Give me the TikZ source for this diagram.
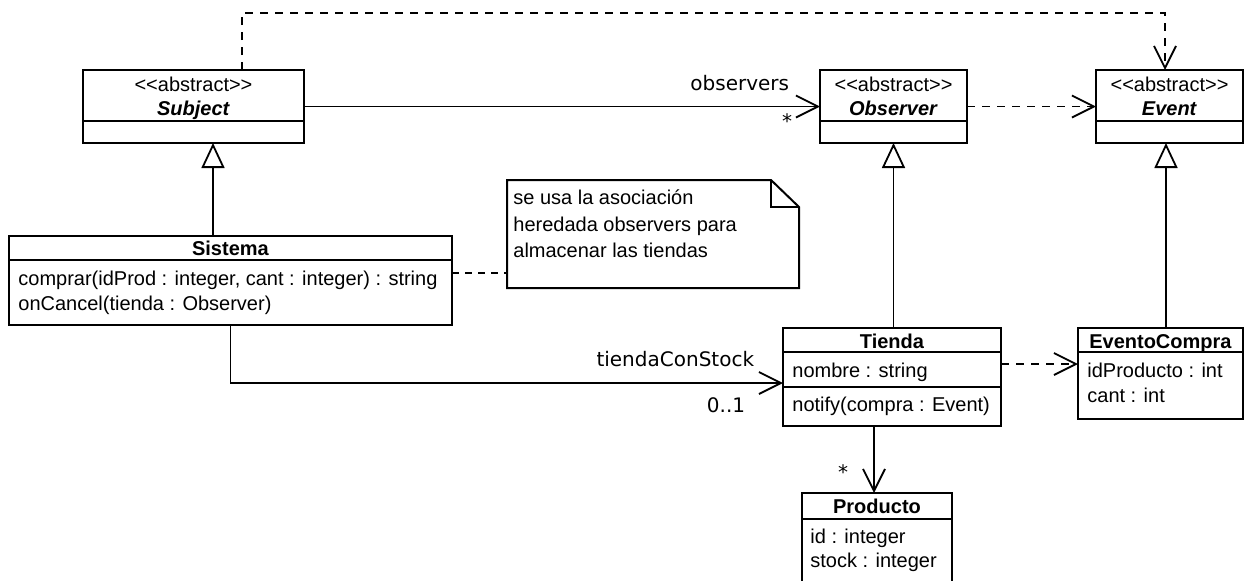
\documentclass[tikz,border=0pt]{standalone}
\usepackage{fontspec}
\setmainfont{Liberation Sans}
\newfontfamily\lblfont{DejaVu Sans}
\usetikzlibrary{arrows.meta}

\begin{document}
\begin{tikzpicture}[x=0.5pt, y=-0.5pt,
  cls/.style={draw, line width=1pt, anchor=north west, inner sep=0pt, outer sep=0pt},
  txt/.style={inner sep=0pt, font=\fontsize{10}{12}\selectfont},
  lbl/.style={inner sep=0pt, font=\lblfont\fontsize{10}{12}\selectfont},
  conn/.style={line width=0.9pt},
  assoc/.style={conn, -{Straight Barb[length=11pt, width=11pt]}},
  dep/.style={assoc, dash pattern=on 4pt off 3.5pt},
  gen/.style={conn, -{Triangle[open, length=12.5pt, width=11.5pt, fill=white]}}
]
\useasboundingbox (0,0) rectangle (1250,580);

% abstract classes
\node[cls, minimum width=110.5pt, minimum height=36.5pt] (subject) at (83,70) {};
\draw[line width=1pt] (subject.west |- 0,121) -- (subject.east |- 0,121);
\node[txt, anchor=base] (subject-st) at (193.5,91) {<{}<abstract>{}>};
\node[txt, anchor=base] (subject-nm) at (193.5,115) {\textbf{\textit{Subject}}};

\node[cls, minimum width=73.5pt, minimum height=36.5pt] (observer) at (820,70) {};
\draw[line width=1pt] (observer.west |- 0,121) -- (observer.east |- 0,121);
\node[txt, anchor=base] (observer-st) at (893.5,91) {<{}<abstract>{}>};
\node[txt, anchor=base] (observer-nm) at (893.5,115) {\textbf{\textit{Observer}}};

\node[cls, minimum width=73.5pt, minimum height=36.5pt] (event) at (1096,70) {};
\draw[line width=1pt] (event.west |- 0,121) -- (event.east |- 0,121);
\node[txt, anchor=base] (event-st) at (1169.5,91) {<{}<abstract>{}>};
\node[txt, anchor=base] (event-nm) at (1169.5,115) {\textbf{\textit{Event}}};

% Sistema
\node[cls, minimum width=221.5pt, minimum height=44.5pt] (sistema) at (9,236) {};
\draw[line width=1pt] (sistema.west |- 0,260) -- (sistema.east |- 0,260);
\node[txt, anchor=base] (sistema-nm) at (230.5,255) {\textbf{Sistema}};
\node[txt, anchor=base west] (sistema-m1) at (18,285) {comprar(idProd : integer, cant : integer) : string};
\node[txt, anchor=base west] (sistema-m2) at (18,310) {onCancel(tienda : Observer)};

% note
\node[anchor=north west, inner sep=0pt, outer sep=0pt, minimum width=146pt, minimum height=54pt] (note) at (507,180) {};
\draw[line width=1pt] (note.north west) -- ([xshift=-14pt]note.north east) -- ([yshift=-13.5pt]note.north east) -- (note.south east) -- (note.south west) -- cycle;
\draw[line width=0.9pt] ([xshift=-14pt]note.north east) |- ([yshift=-13.5pt]note.north east);
\node[txt, anchor=base west] (note-l1) at (513,204) {se usa la asociación};
\node[txt, anchor=base west] (note-l2) at (513,231) {heredada observers para};
\node[txt, anchor=base west] (note-l3) at (513,257) {almacenar las tiendas};

% Tienda
\node[cls, minimum width=109pt, minimum height=49pt] (tienda) at (783,328) {};
\draw[line width=1pt] (tienda.west |- 0,352) -- (tienda.east |- 0,352);
\draw[line width=1pt] (tienda.west |- 0,387) -- (tienda.east |- 0,387);
\node[txt, anchor=base] (tienda-nm) at (892,348) {\textbf{Tienda}};
\node[txt, anchor=base west] (tienda-a1) at (792,377) {nombre : string};
\node[txt, anchor=base west] (tienda-m1) at (792,411) {notify(compra : Event)};

% EventoCompra
\node[cls, minimum width=82.5pt, minimum height=45.5pt] (evcompra) at (1078,328) {};
\draw[line width=1pt] (evcompra.west |- 0,352) -- (evcompra.east |- 0,352);
\node[txt, anchor=base] (evcompra-nm) at (1160.5,348) {\textbf{EventoCompra}};
\node[txt, anchor=base west] (evcompra-a1) at (1087,377) {idProducto : int};
\node[txt, anchor=base west] (evcompra-a2) at (1087,402) {cant : int};

% Producto
\node[cls, minimum width=75pt, minimum height=55pt] (producto) at (802,493) {};
\draw[line width=1pt] (producto.west |- 0,519) -- (producto.east |- 0,519);
\node[txt, anchor=base] (producto-nm) at (877,513) {\textbf{Producto}};
\node[txt, anchor=base west] (producto-a1) at (810,543) {id : integer};
\node[txt, anchor=base west] (producto-a2) at (810,567) {stock : integer};

% relations
\draw[dep] ([xshift=24.25pt]subject.north) -- ++(0,-57) -| ([xshift=-2.25pt]event.north);
\draw[assoc] (subject.east) -- (observer.west)
  node[lbl, at end, anchor=base east, xshift=-15pt, yshift=8.25pt] (obs-role) {observers}
  node[lbl, at end, xshift=-16.5pt, yshift=-7.35pt] (obs-mult) {*};
\draw[dep] (observer.east) -- (event.west);
\draw[gen] ([xshift=9.75pt]subject.south |- sistema.north) -- ([xshift=9.75pt]subject.south);
\draw[gen] (observer.south |- tienda.north) -- (observer.south);
\draw[gen] ([xshift=-1.75pt]event.south |- evcompra.north) -- ([xshift=-1.75pt]event.south);
\draw[assoc] (sistema.south) |- ([yshift=-3pt]tienda.west)
  node[lbl, at end, anchor=base east, xshift=-14pt, yshift=8.5pt] (stock-role) {tiendaConStock}
  node[lbl, at end, anchor=base east, xshift=-18.5pt, yshift=-14.5pt] (stock-mult) {0..1};
\draw[conn, dash pattern=on 3.5pt off 3pt] ([yshift=3.75pt]sistema.east) -- ([yshift=3.75pt]sistema.east -| note.west);
\draw[dep] ([yshift=6.5pt]tienda.east) -- ([yshift=6.5pt]tienda.east -| evcompra.west);
\draw[assoc] ([xshift=-9pt]tienda.south) -- ([xshift=-9pt]tienda.south |- producto.north)
  node[lbl, at end, xshift=-15.5pt, yshift=10.65pt] (prod-mult) {*};
\end{tikzpicture}
\end{document}
